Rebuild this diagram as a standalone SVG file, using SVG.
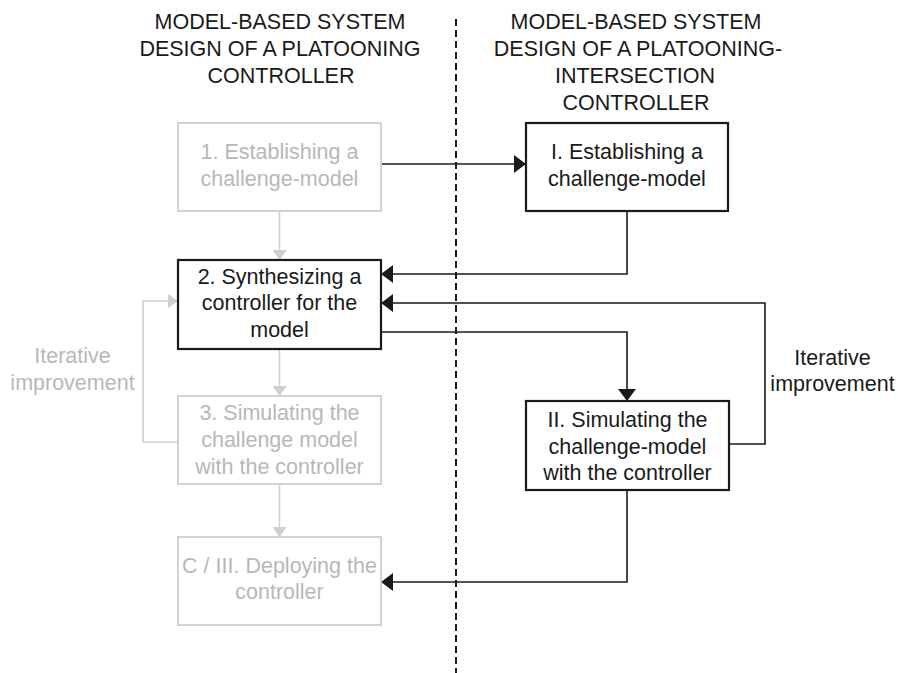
<svg xmlns="http://www.w3.org/2000/svg" width="898" height="673" viewBox="0 0 898 673">
  <style>
    text { font-family: "Liberation Sans", Arial, sans-serif; font-size: 21.5px; text-anchor: middle; }
    .dark text, text.dark { fill: #1a1a1a; }
    .faded text, text.faded { fill: #b8b8b8; }
    .box-dark { fill: #ffffff; stroke: #1a1a1a; stroke-width: 2.2; }
    .box-faded { fill: #ffffff; stroke: #d2d2d2; stroke-width: 2; }
    .wire { fill: none; stroke: #1a1a1a; stroke-width: 1.6; }
    .wire-faded { fill: none; stroke: #cfcfcf; stroke-width: 1.6; }
    .divider { stroke: #1a1a1a; stroke-width: 2; stroke-dasharray: 7 4; }
  </style>
  <defs>
    <marker id="arrowDark" viewBox="0 0 12 18" refX="12" refY="9" markerWidth="12" markerHeight="18" markerUnits="userSpaceOnUse" orient="auto">
      <path d="M0,0 L12,9 L0,18 Z" fill="#1a1a1a"/>
    </marker>
    <marker id="arrowFaded" viewBox="0 0 10 14" refX="10" refY="7" markerWidth="10" markerHeight="14" markerUnits="userSpaceOnUse" orient="auto">
      <path d="M0,0 L10,7 L0,14 Z" fill="#cfcfcf"/>
    </marker>
  </defs>

  <rect width="898" height="673" fill="#ffffff"/>

  <!-- column headings and divider -->
  <g id="heading-left" class="dark">
    <text x="280" y="28.5">MODEL-BASED SYSTEM</text>
    <text x="280" y="55.5">DESIGN OF A PLATOONING</text>
    <text x="281" y="82.5">CONTROLLER</text>
  </g>
  <g id="heading-right" class="dark">
    <text x="636" y="29">MODEL-BASED SYSTEM</text>
    <text x="638" y="56">DESIGN OF A PLATOONING-</text>
    <text x="635" y="83">INTERSECTION</text>
    <text x="636" y="110">CONTROLLER</text>
  </g>
  <line class="divider" x1="456" y1="19" x2="456" y2="673"/>

  <!-- connectors -->
  <g id="connectors">
    <path class="wire-faded" d="M279.5,211 V260" marker-end="url(#arrowFaded)"/>
    <path class="wire-faded" d="M279.5,349 V396" marker-end="url(#arrowFaded)"/>
    <path class="wire-faded" d="M279.5,484 V537" marker-end="url(#arrowFaded)"/>
    <path class="wire-faded" d="M178,442 H143 V301 H178" marker-end="url(#arrowFaded)"/>
    <path class="wire" d="M381,164 H526" marker-end="url(#arrowDark)"/>
    <path class="wire" d="M627,211 V274 H381" marker-end="url(#arrowDark)"/>
    <path class="wire" d="M729,444 H765 V303 H381" marker-end="url(#arrowDark)"/>
    <path class="wire" d="M381,332 H627 V401" marker-end="url(#arrowDark)"/>
    <path class="wire" d="M627,490 V582 H381" marker-end="url(#arrowDark)"/>
  </g>

  <!-- left column steps -->
  <g id="step-1" class="faded">
    <rect class="box-faded" x="178" y="123" width="203" height="88"/>
    <text x="279.5" y="159">1. Establishing a</text>
    <text x="279.5" y="185.5">challenge-model</text>
  </g>
  <g id="step-2" class="dark">
    <rect class="box-dark" x="178" y="260" width="203" height="89"/>
    <text x="279.5" y="283.5">2. Synthesizing a</text>
    <text x="279.5" y="310">controller for the</text>
    <text x="279.5" y="336.5">model</text>
  </g>
  <g id="step-3" class="faded">
    <rect class="box-faded" x="178" y="396" width="203" height="88"/>
    <text x="279.5" y="420">3. Simulating the</text>
    <text x="279.5" y="447">challenge model</text>
    <text x="279.5" y="474">with the controller</text>
  </g>
  <g id="step-deploy" class="faded">
    <rect class="box-faded" x="178" y="537" width="203" height="88"/>
    <text x="279.5" y="573">C / III. Deploying the</text>
    <text x="279.5" y="599">controller</text>
  </g>
  <g id="label-iterative-left" class="faded">
    <text x="72.5" y="363">Iterative</text>
    <text x="72.5" y="390">improvement</text>
  </g>

  <!-- right column steps -->
  <g id="step-I" class="dark">
    <rect class="box-dark" x="526" y="123" width="202" height="88"/>
    <text x="627" y="159">I. Establishing a</text>
    <text x="627" y="185.5">challenge-model</text>
  </g>
  <g id="step-II" class="dark">
    <rect class="box-dark" x="526" y="401" width="203" height="89"/>
    <text x="627.5" y="427">II. Simulating the</text>
    <text x="627.5" y="453.5">challenge-model</text>
    <text x="627.5" y="480">with the controller</text>
  </g>
  <g id="label-iterative-right" class="dark">
    <text x="832.5" y="365">Iterative</text>
    <text x="832.5" y="391">improvement</text>
  </g>
</svg>
